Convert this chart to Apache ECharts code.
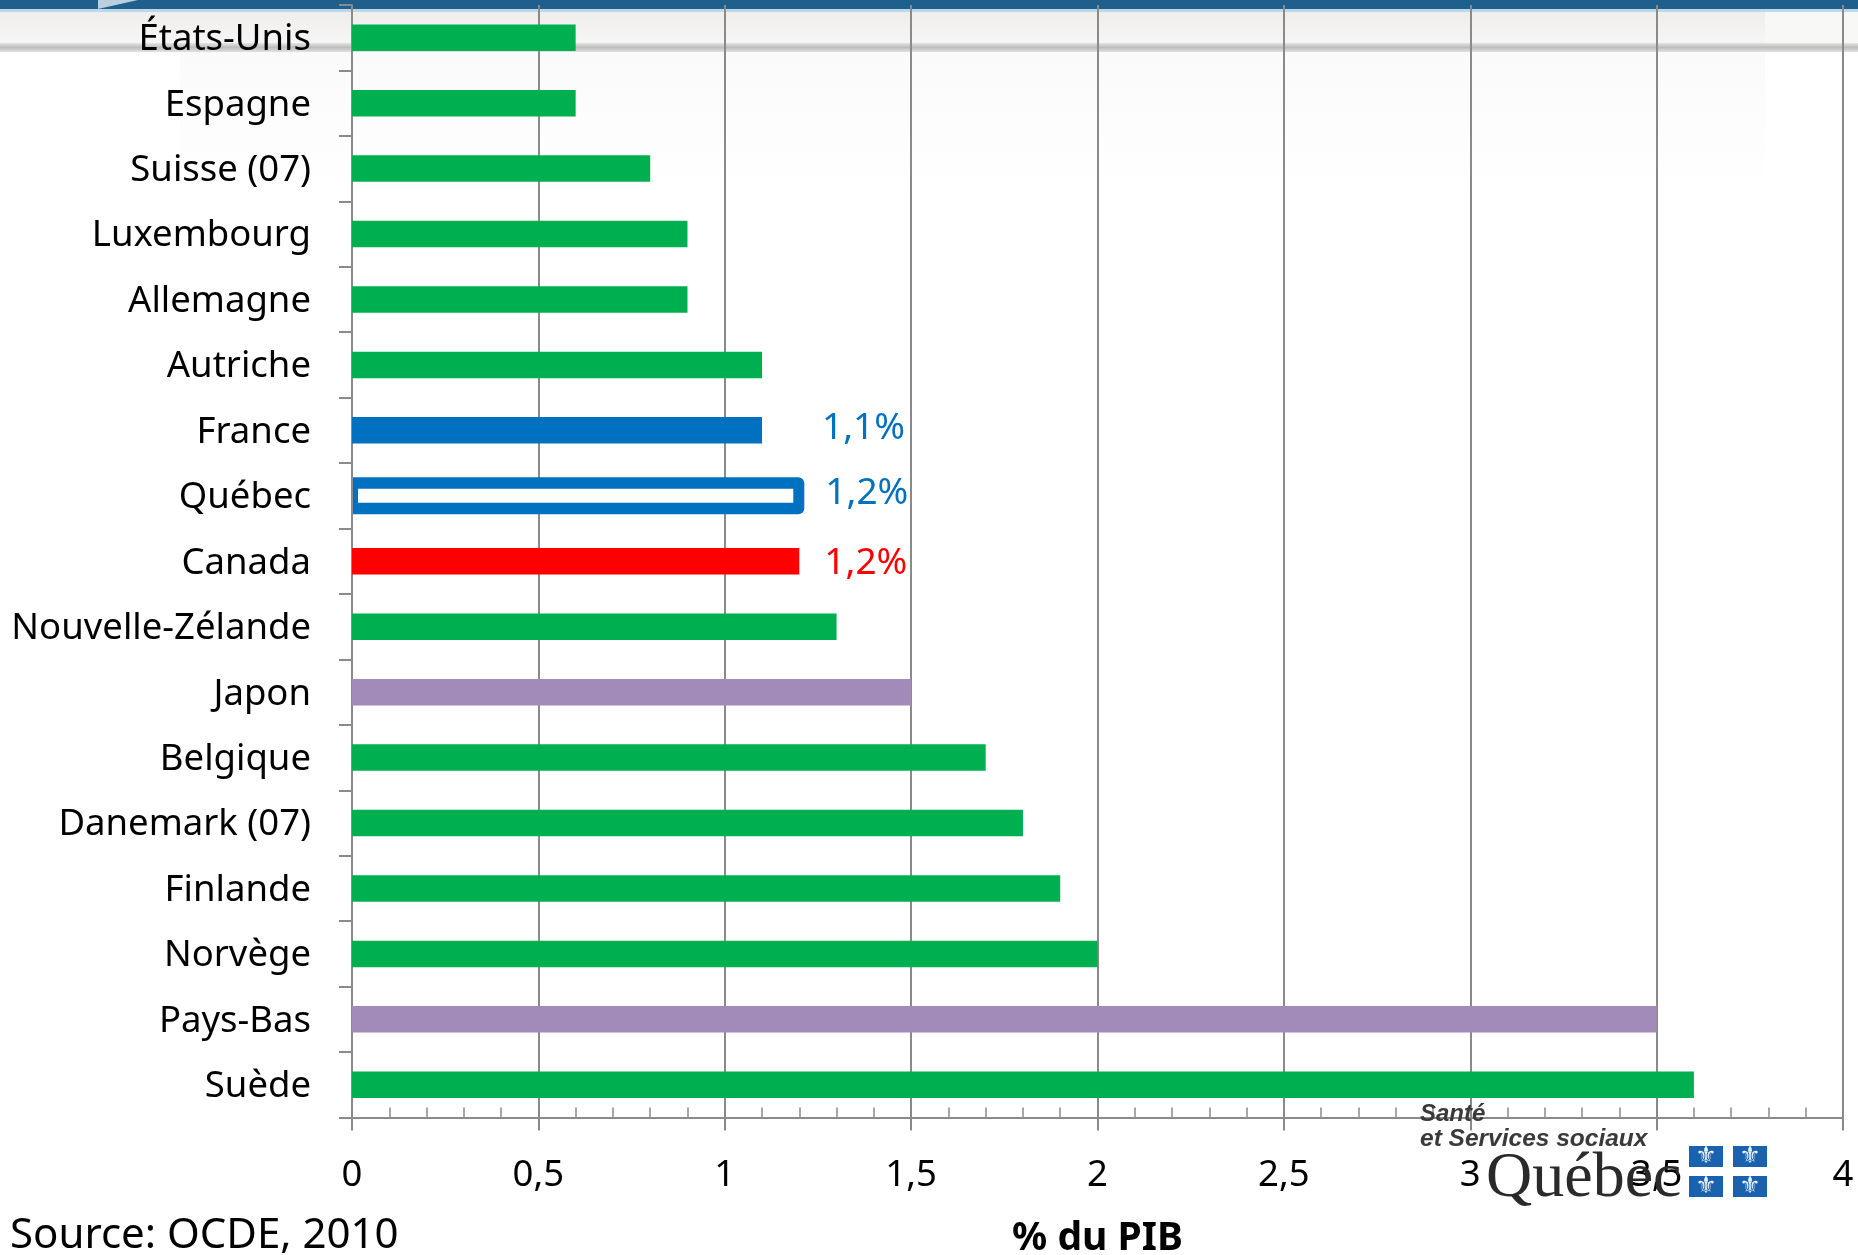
<!DOCTYPE html>
<html lang="fr">
<head>
<meta charset="utf-8">
<title>Dépenses en % du PIB</title>
<style>html,body{margin:0;padding:0;background:#fff}#chart{width:1858px;height:1255px}</style>
<script src="https://cdn.jsdelivr.net/npm/echarts@6/dist/echarts.min.js"></script>
</head>
<body>
<div id="chart"></div>
<script>
// Pays, du haut vers le bas
const countries = ['États-Unis','Espagne','Suisse (07)','Luxembourg','Allemagne','Autriche','France','Québec','Canada','Nouvelle-Zélande','Japon','Belgique','Danemark (07)','Finlande','Norvège','Pays-Bas','Suède'];
const values = [0.6,0.6,0.8,0.9,0.9,1.1,1.1,1.2,1.2,1.3,1.5,1.7,1.8,1.9,2,3.5,3.6];
const GREEN = '#00b050', PURPLE = '#a28ab9', BLUE = '#0070c0', RED = '#ff0000';
const barColors = [GREEN,GREEN,GREEN,GREEN,GREEN,GREEN,BLUE,null,RED,GREEN,PURPLE,GREEN,GREEN,GREEN,GREEN,PURPLE,GREEN];
const xTicks = [0,0.5,1,1.5,2,2.5,3,3.5,4];
const FONT = '"Noto Sans", "Open Sans", sans-serif';
const LINE = '#8a8a8a';

const frNumber = v => String(v).replace('.', ',');
const pct = v => v.toFixed(1).replace('.', ',') + '%';

const quebecIndex = countries.indexOf('Québec');
const labelled = { France: { distance: 60, offset: [0, -2] }, Canada: { distance: 25, offset: [0, 2] } };

const barData = countries.map((name, i) => {
  if (i === quebecIndex) return null;
  const item = { value: values[i], itemStyle: { color: barColors[i] } };
  if (labelled[name]) {
    item.label = {
      show: true, position: 'right', distance: labelled[name].distance, offset: labelled[name].offset,
      color: barColors[i], fontFamily: FONT, fontSize: 37, formatter: p => pct(p.value)
    };
  }
  return item;
});

// Barre du Québec : contour bleu épais, intérieur blanc
function renderQuebec(params, api) {
  const end = api.coord([api.value(0), api.value(1)]);
  const start = api.coord([0, api.value(1)]);
  const left = start[0] + 1, right = end[0] + 5, top = end[1] - 18.5, h = 37;
  return {
    type: 'group',
    children: [
      { type: 'rect', shape: { x: left, y: top, width: right - left, height: h, r: [0, 6, 6, 0] }, style: { fill: BLUE } },
      { type: 'rect', shape: { x: left + 5, y: top + 11.5, width: right - left - 16, height: h - 23 }, style: { fill: '#ffffff' } },
      { type: 'text', style: { x: end[0] + 26, y: end[1] - 2, text: pct(api.value(0)), fill: BLUE, font: '37px ' + FONT, verticalAlign: 'middle', textAlign: 'left' } }
    ]
  };
}

// Bandeau de la diapositive et signature ministérielle
const shadowBand = new echarts.graphic.LinearGradient(0, 0, 0, 1, [
  { offset: 0, color: '#e4e4e4' }, { offset: 0.5, color: '#bdbdbd' }, { offset: 1, color: '#e2e2e2' }
]);
const band = [
  { type: 'rect', z: -10, shape: { x: 0, y: 0, width: 1858, height: 9 }, style: { fill: '#1f5f8b' } },
  { type: 'polygon', z: -9, shape: { points: [[98, 9], [98, 0], [138, 0]] }, style: { fill: '#b9cfe0' } },
  { type: 'rect', z: -10, shape: { x: 0, y: 9, width: 1858, height: 3 }, style: { fill: '#bcd8ea' } },
  { type: 'rect', z: -10, shape: { x: 0, y: 12, width: 1765, height: 32 }, style: { fill: new echarts.graphic.LinearGradient(0, 0, 0, 1, [{ offset: 0, color: '#efeeec' }, { offset: 1, color: '#f6f6f6' }]) } },
  { type: 'rect', z: -10, shape: { x: 1765, y: 12, width: 93, height: 32 }, style: { fill: '#f8f8f7' } },
  { type: 'rect', z: -10, shape: { x: 0, y: 43, width: 1858, height: 9 }, style: { fill: shadowBand } },
  { type: 'rect', z: -10, shape: { x: 180, y: 52, width: 1585, height: 140 }, style: { fill: new echarts.graphic.LinearGradient(0, 0, 0, 1, [{ offset: 0, color: '#fafafa' }, { offset: 1, color: '#ffffff' }]) } }
];

const flagCells = [[1689, 1146], [1733, 1146], [1689, 1176], [1733, 1176]];
const logo = [
  { type: 'text', z: 20, style: { x: 1420, y: 1114, text: 'Santé', fill: '#3a3a3a', font: 'italic bold 24px "Liberation Sans", sans-serif', verticalAlign: 'middle' } },
  { type: 'text', z: 20, style: { x: 1420, y: 1139, text: 'et Services sociaux', fill: '#3a3a3a', font: 'italic bold 24.5px "Liberation Sans", sans-serif', verticalAlign: 'middle' } },
  { type: 'text', z: 20, style: { x: 1486, y: 1179, text: 'Québec', fill: '#2a2a2a', font: '64px "Liberation Serif", serif', verticalAlign: 'middle' } }
];
flagCells.forEach(([x, y]) => {
  logo.push({ type: 'rect', z: 20, shape: { x, y, width: 34, height: 21 }, style: { fill: '#1b62ae' } });
  logo.push({ type: 'text', z: 21, style: { x: x + 17, y: y + 11, text: '⚜', fill: '#eaf2fa', font: '24px "DejaVu Sans"', textAlign: 'center', verticalAlign: 'middle' } });
});

const source = { type: 'text', z: 20, style: { x: 10, y: 1236, text: 'Source: OCDE, 2010', fill: '#000', font: '42px ' + FONT, verticalAlign: 'middle' } };

const chart = echarts.init(document.getElementById('chart'), null, { renderer: 'canvas' });
chart.setOption({
  animation: false,
  backgroundColor: '#ffffff',
  grid: { left: 352, right: 15, top: 5, height: 1112.5, containLabel: false, outerBoundsMode: 'none' },
  graphic: { elements: [...band, ...logo, source] },
  xAxis: [
    {
      type: 'value', min: xTicks[0], max: xTicks[xTicks.length - 1], interval: 0.5,
      axisLine: { show: true, lineStyle: { color: LINE, width: 2 } },
      axisTick: { show: true, length: 13, lineStyle: { color: LINE, width: 2 } },
      splitLine: { show: true, lineStyle: { color: LINE, width: 2 } },
      axisLabel: { margin: 40, color: '#000', fontFamily: FONT, fontSize: 36.5, formatter: frNumber, hideOverlap: false, showMinLabel: true, showMaxLabel: true },
      name: '% du PIB', nameLocation: 'middle', nameGap: 102,
      nameTextStyle: { color: '#000', fontFamily: FONT, fontSize: 39, fontWeight: 'bold' }
    },
    {
      // Graduations secondaires, vers l'intérieur du graphique
      type: 'value', position: 'bottom', min: 0, max: 4, interval: 0.1,
      axisLine: { show: false },
      axisTick: { show: true, inside: true, length: 10, lineStyle: { color: LINE, width: 1.5 } },
      axisLabel: { show: false }, splitLine: { show: false }
    }
  ],
  yAxis: {
    type: 'category', inverse: true, data: countries,
    axisLine: { show: true, lineStyle: { color: LINE, width: 2 } },
    axisTick: { show: true, length: 13, alignWithLabel: false, lineStyle: { color: LINE, width: 2 } },
    axisLabel: { margin: 41, color: '#000', fontFamily: FONT, fontSize: 36.5, interval: 0, verticalAlign: 'top', lineHeight: 4 },
    splitLine: { show: false }
  },
  series: [
    { type: 'bar', barWidth: 26.5, data: barData, z: 3 },
    {
      type: 'custom', z: 4, renderItem: renderQuebec, clip: false,
      encode: { x: 0, y: 1 },
      data: [[values[quebecIndex], quebecIndex]]
    }
  ]
});
</script>
</body>
</html>
